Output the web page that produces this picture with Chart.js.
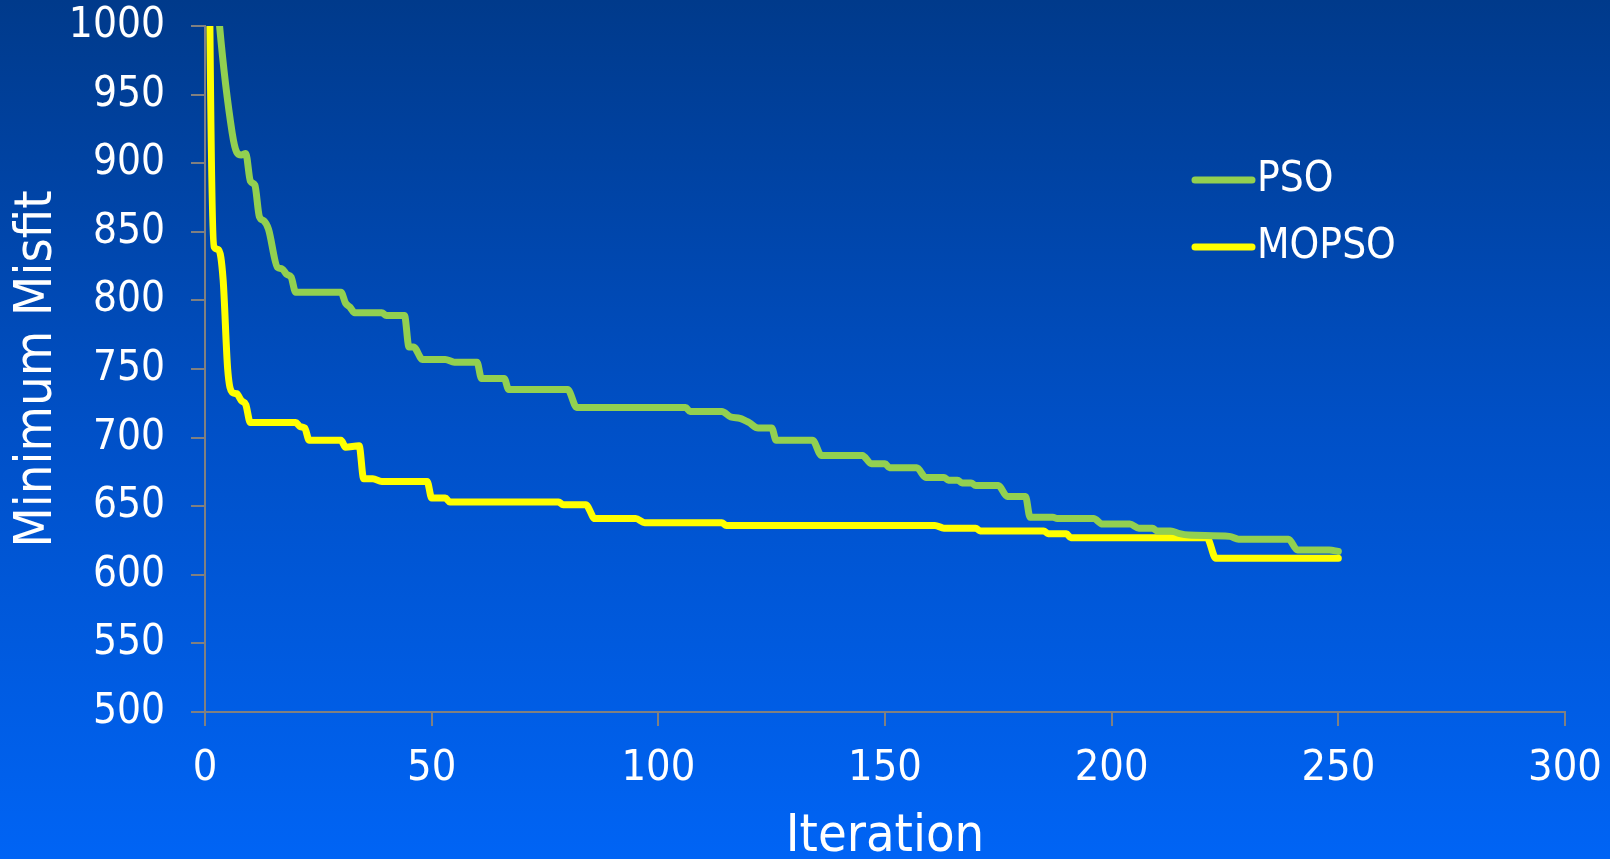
<!DOCTYPE html>
<html>
<head>
<meta charset="utf-8">
<title>Minimum Misfit vs Iteration</title>
<script src="https://cdn.jsdelivr.net/npm/chart.js@4/dist/chart.umd.min.js"></script>
<style>
  html, body { margin: 0; padding: 0; background: #0050c6; }
  canvas { display: block; }
</style>
</head>
<body>
<canvas id="chart" width="1610" height="859"></canvas>
<script>
// Best misfit found so far, recorded at the iterations where it changes.
const psoIter = [0, 3, 6, 7, 8, 9, 10, 11, 12, 13, 14, 16, 17, 18, 19, 20, 30, 31, 32, 33, 39, 40, 44, 45, 46, 48, 53, 55, 60, 61, 66, 67, 80, 82, 106, 107, 114, 116, 118, 120, 122, 125, 126, 134, 136, 145, 147, 150, 151, 157, 159, 163, 164, 166, 167, 169, 170, 175, 177, 181, 182, 187, 188, 196, 198, 204, 206, 209, 210, 213, 215, 217, 226, 228, 239, 241, 248, 250];
const psoMisfit = [1150, 1008, 922, 908, 906, 907, 887, 884, 861, 858, 852, 824, 823, 819, 817, 806, 806, 798, 795, 791, 791, 789, 789, 766, 766, 757, 757, 755, 755, 743, 743, 735, 735, 722, 722, 719, 719, 715, 714, 711, 707, 707, 698, 698, 687, 687, 681, 681, 678, 678, 671, 671, 669, 669, 667, 667, 665, 665, 657, 657, 642, 642, 641, 641, 637, 637, 634, 634, 632, 632, 630, 629, 628, 626, 626, 618, 618, 617];

const mopsoIter = [0, 1, 2, 3, 4, 5, 6, 7, 8, 9, 10, 20, 21, 22, 23, 30, 31, 34, 35, 37, 39, 49, 50, 53, 54, 78, 79, 84, 86, 95, 97, 114, 115, 161, 163, 170, 171, 185, 186, 190, 191, 221, 223, 250];
const mopsoMisfit = [1600, 1030, 839, 837, 815, 750, 733, 732, 727, 724, 711, 711, 708, 707, 698, 698, 693, 694, 670, 670, 668, 668, 656, 656, 653, 653, 651, 651, 641, 641, 638, 638, 636, 636, 634, 634, 632, 632, 630, 630, 627, 627, 612, 612];

const seriesNames = ['PSO', 'MOPSO'];
const xTicks = [0, 50, 100, 150, 200, 250, 300];
const yTicks = [500, 550, 600, 650, 700, 750, 800, 850, 900, 950, 1000];
const xTitle = 'Iteration';
const yTitle = 'Minimum Misfit';

const FONT = "'DejaVu Sans Condensed', 'DejaVu Sans', sans-serif";
const AXIS_GREY = '#808080';
const COLORS = ['#92d050', '#ffff00'];

const toPoints = (xs, ys) => xs.map((x, i) => ({ x, y: ys[i] }));

// Slide-style vertical blue gradient behind everything
const backdrop = {
  id: 'backdrop',
  beforeDraw(chart) {
    const { ctx, width, height } = chart;
    const g = ctx.createLinearGradient(0, 0, 0, height);
    g.addColorStop(0, '#003a8b');
    g.addColorStop(0.5, '#0050c7');
    g.addColorStop(1, '#0064f5');
    ctx.save();
    ctx.fillStyle = g;
    ctx.fillRect(0, 0, width, height);
    ctx.restore();
  }
};

// Legend inside the plot: short line swatch followed by the series name
const insideLegend = {
  id: 'insideLegend',
  afterDatasetsDraw(chart) {
    const { ctx } = chart;
    const x0 = 1195, x1 = 1252, rows = [180, 247];
    ctx.save();
    chart.data.datasets.forEach((ds, i) => {
      const y = rows[i];
      ctx.strokeStyle = ds.borderColor;
      ctx.lineWidth = 7;
      ctx.lineCap = 'round';
      ctx.beginPath();
      ctx.moveTo(x0, y);
      ctx.lineTo(x1, y);
      ctx.stroke();
      ctx.fillStyle = '#ffffff';
      ctx.font = `42px ${FONT}`;
      ctx.textAlign = 'left';
      ctx.textBaseline = 'middle';
      ctx.fillText(ds.label, x1 + 5, y);
    });
    ctx.restore();
  }
};

const lineStyle = {
  borderWidth: 7,
  pointRadius: 0,
  pointHoverRadius: 0,
  cubicInterpolationMode: 'monotone',
  borderCapStyle: 'round',
  borderJoinStyle: 'round',
  fill: false,
  clip: 0
};

const plainNumber = v => String(v);

new Chart(document.getElementById('chart'), {
  type: 'line',
  data: {
    datasets: [
      { label: seriesNames[0], data: toPoints(psoIter, psoMisfit), borderColor: COLORS[0], ...lineStyle },
      { label: seriesNames[1], data: toPoints(mopsoIter, mopsoMisfit), borderColor: COLORS[1], ...lineStyle }
    ]
  },
  options: {
    responsive: false,
    animation: false,
    devicePixelRatio: 1,
    layout: { padding: { top: 26, right: 45, left: 0, bottom: 0 } },
    scales: {
      x: {
        type: 'linear',
        min: xTicks[0],
        max: xTicks[xTicks.length - 1],
        afterBuildTicks: s => { s.ticks = xTicks.map(v => ({ value: v })); },
        afterFit: s => { s.height = 147; s.paddingLeft = 0; s.paddingRight = 0; },
        ticks: { color: '#ffffff', font: { family: FONT, size: 43 }, padding: 17, maxRotation: 0, autoSkip: false, callback: plainNumber },
        grid: { drawOnChartArea: false, drawTicks: true, tickLength: 14, color: AXIS_GREY, lineWidth: 2 },
        border: { display: true, color: AXIS_GREY, width: 2 },
        title: { display: true, text: xTitle, color: '#ffffff', font: { family: FONT, size: 52, lineHeight: 1 }, padding: { top: 0, bottom: -4 } }
      },
      y: {
        type: 'linear',
        min: yTicks[0],
        max: yTicks[yTicks.length - 1],
        afterBuildTicks: s => { s.ticks = yTicks.map(v => ({ value: v })); },
        afterFit: s => { s.width = 205; s.paddingTop = 0; s.paddingBottom = 0; },
        ticks: { color: '#ffffff', font: { family: FONT, size: 42 }, padding: 26, autoSkip: false, callback: plainNumber },
        grid: { drawOnChartArea: false, drawTicks: true, tickLength: 14, color: AXIS_GREY, lineWidth: 2 },
        border: { display: true, color: AXIS_GREY, width: 2 },
        title: { display: true, text: yTitle, color: '#ffffff', font: { family: FONT, size: 52, lineHeight: 1 }, padding: { top: 11, bottom: 0 } }
      }
    },
    plugins: {
      legend: { display: false },
      tooltip: { enabled: false }
    }
  },
  plugins: [backdrop, insideLegend]
});
</script>
</body>
</html>
